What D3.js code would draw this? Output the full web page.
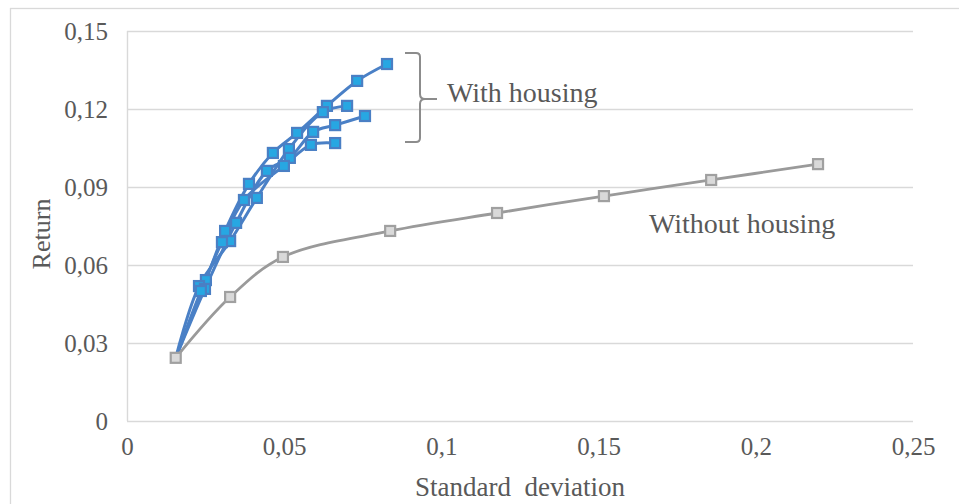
<!DOCTYPE html>
<html>
<head>
<meta charset="utf-8">
<script src="https://cdn.jsdelivr.net/npm/d3@7"></script>
<style>
  html, body { margin: 0; padding: 0; background: #fff; }
  svg { display: block; }
</style>
</head>
<body>
<svg id="chart" width="959" height="504"></svg>
<script>
// ---- data ----
const xTicks = [0, 0.05, 0.1, 0.15, 0.2, 0.25];
const xTickLabels = ["0", "0,05", "0,1", "0,15", "0,2", "0,25"];
const yTicks = [0, 0.03, 0.06, 0.09, 0.12, 0.15];
const yTickLabels = ["0", "0,03", "0,06", "0,09", "0,12", "0,15"];

const withoutHousingSD  = [0.0155, 0.0328, 0.0496, 0.0837, 0.1177, 0.1517, 0.1858, 0.2198];
const withoutHousingRet = [0.0243, 0.0477, 0.0631, 0.0731, 0.0800, 0.0865, 0.0927, 0.0988];

const housingASD  = [0.0155, 0.0251, 0.0312, 0.0388, 0.0464, 0.0541, 0.0636, 0.0732, 0.0827];
const housingARet = [0.0243, 0.0542, 0.0731, 0.0912, 0.1031, 0.1108, 0.1212, 0.1308, 0.1373];
const housingBSD  = [0.0155, 0.0229, 0.0328, 0.0413, 0.0515, 0.0623, 0.0700];
const housingBRet = [0.0243, 0.0519, 0.0692, 0.0858, 0.1046, 0.1188, 0.1212];
const housingCSD  = [0.0155, 0.0248, 0.0347, 0.0445, 0.0518, 0.0592, 0.0662, 0.0757];
const housingCRet = [0.0243, 0.0508, 0.0762, 0.0962, 0.1012, 0.1112, 0.1138, 0.1173];
const housingDSD  = [0.0155, 0.0235, 0.0302, 0.0372, 0.0499, 0.0585, 0.0662];
const housingDRet = [0.0243, 0.0500, 0.0688, 0.0850, 0.0981, 0.1062, 0.1069];

const xTitle = "Standard  deviation";
const yTitle = "Return";
const labelWith = "With housing";
const labelWithout = "Without housing";

// ---- layout ----
const svg = d3.select("#chart");
const W = 959, H = 504;
const plot = { left: 127, right: 913, top: 31, bottom: 421 };

const x = d3.scaleLinear().domain([0, 0.25]).range([plot.left, plot.right]);
const y = d3.scaleLinear().domain([0, 0.15]).range([plot.bottom, plot.top]);

const textColor = "#595959";
const gridColor = "#d9d9d9";
const font = "'Liberation Serif', 'Times New Roman', serif";

// outer chart border
svg.append("rect")
  .attr("x", 10.5).attr("y", 8.5)
  .attr("width", W + 20).attr("height", H + 20)
  .attr("fill", "none").attr("stroke", gridColor).attr("stroke-width", 1.3);

// gridlines
svg.append("g")
  .selectAll("line")
  .data(yTicks)
  .join("line")
  .attr("x1", plot.left).attr("x2", plot.right)
  .attr("y1", d => Math.round(y(d)) + 0.5).attr("y2", d => Math.round(y(d)) + 0.5)
  .attr("stroke", gridColor).attr("stroke-width", 1.6);

// y axis line
svg.append("line")
  .attr("x1", plot.left + 0.5).attr("x2", plot.left + 0.5)
  .attr("y1", plot.top).attr("y2", plot.bottom)
  .attr("stroke", gridColor).attr("stroke-width", 1.4);

// axes (labels only)
const yAxis = d3.axisLeft(y).tickValues(yTicks)
  .tickFormat((d, i) => yTickLabels[i]).tickSize(0).tickPadding(19);
const gy = svg.append("g").attr("transform", `translate(${plot.left},0)`).call(yAxis);
gy.select(".domain").remove();
gy.selectAll("text").attr("font-family", font).attr("font-size", 25)
  .attr("fill", textColor);

const xAxis = d3.axisBottom(x).tickValues(xTicks)
  .tickFormat((d, i) => xTickLabels[i]).tickSize(0).tickPadding(16);
const gx = svg.append("g").attr("transform", `translate(0,${plot.bottom})`).call(xAxis);
gx.select(".domain").remove();
gx.selectAll("text").attr("font-family", font).attr("font-size", 25)
  .attr("fill", textColor);

// axis titles
svg.append("text")
  .attr("x", (plot.left + plot.right) / 2).attr("y", 496)
  .attr("text-anchor", "middle")
  .attr("font-family", font).attr("font-size", 27).attr("fill", textColor)
  .style("white-space", "pre")
  .text(xTitle);

svg.append("text")
  .attr("transform", `translate(50,${(plot.top + plot.bottom) / 2 + 8}) rotate(-90)`)
  .attr("text-anchor", "middle")
  .attr("font-family", font).attr("font-size", 26).attr("fill", textColor)
  .text(yTitle);

// series
const curve = d3.curveCatmullRom.alpha(0.5);
const line = d3.line().x(d => x(d[0])).y(d => y(d[1])).curve(curve);

const zip = (a, b) => a.map((v, i) => [v, b[i]]);

const blueSeries = [
  zip(housingASD, housingARet),
  zip(housingBSD, housingBRet),
  zip(housingCSD, housingCRet),
  zip(housingDSD, housingDRet)
];

const blueLine = "#4a80c6";
const blueFill = "#27a7e2";
const blueEdge = "#4a7fc4";

const gBlue = svg.append("g");
blueSeries.forEach(s => {
  gBlue.append("path").datum(s)
    .attr("d", line).attr("fill", "none")
    .attr("stroke", blueLine).attr("stroke-width", 3)
    .attr("stroke-linejoin", "round");
});
const ms = 10;
blueSeries.forEach(s => {
  gBlue.append("g").selectAll("rect")
    .data(s.slice(1))
    .join("rect")
    .attr("x", d => x(d[0]) - ms / 2).attr("y", d => y(d[1]) - ms / 2)
    .attr("width", ms).attr("height", ms)
    .attr("fill", blueFill).attr("stroke", blueEdge).attr("stroke-width", 2.2);
});

const gray = zip(withoutHousingSD, withoutHousingRet);
svg.append("path").datum(gray)
  .attr("d", line).attr("fill", "none")
  .attr("stroke", "#9a9a9a").attr("stroke-width", 2.8);
svg.append("g").selectAll("rect")
  .data(gray)
  .join("rect")
  .attr("x", d => x(d[0]) - ms / 2).attr("y", d => y(d[1]) - ms / 2)
  .attr("width", ms).attr("height", ms)
  .attr("fill", "#d9d9d9").attr("stroke", "#a0a0a0").attr("stroke-width", 2.2);

// bracket annotation
const br = d3.path();
br.moveTo(405, 53);
br.lineTo(416, 53);
br.quadraticCurveTo(420, 53, 420, 57);
br.lineTo(420, 94);
br.quadraticCurveTo(420, 99, 425, 99);
br.lineTo(437, 99);
br.moveTo(425, 99);
br.quadraticCurveTo(420, 99, 420, 104);
br.lineTo(420, 138);
br.quadraticCurveTo(420, 142, 416, 142);
br.lineTo(405, 142);
svg.append("path").attr("d", br.toString())
  .attr("fill", "none").attr("stroke", "#8c8c8c").attr("stroke-width", 2);

svg.append("text")
  .attr("x", 447).attr("y", 102)
  .attr("font-family", font).attr("font-size", 28).attr("fill", textColor)
  .text(labelWith);

svg.append("text")
  .attr("x", 649).attr("y", 233)
  .attr("font-family", font).attr("font-size", 28).attr("fill", textColor)
  .text(labelWithout);
</script>
</body>
</html>
